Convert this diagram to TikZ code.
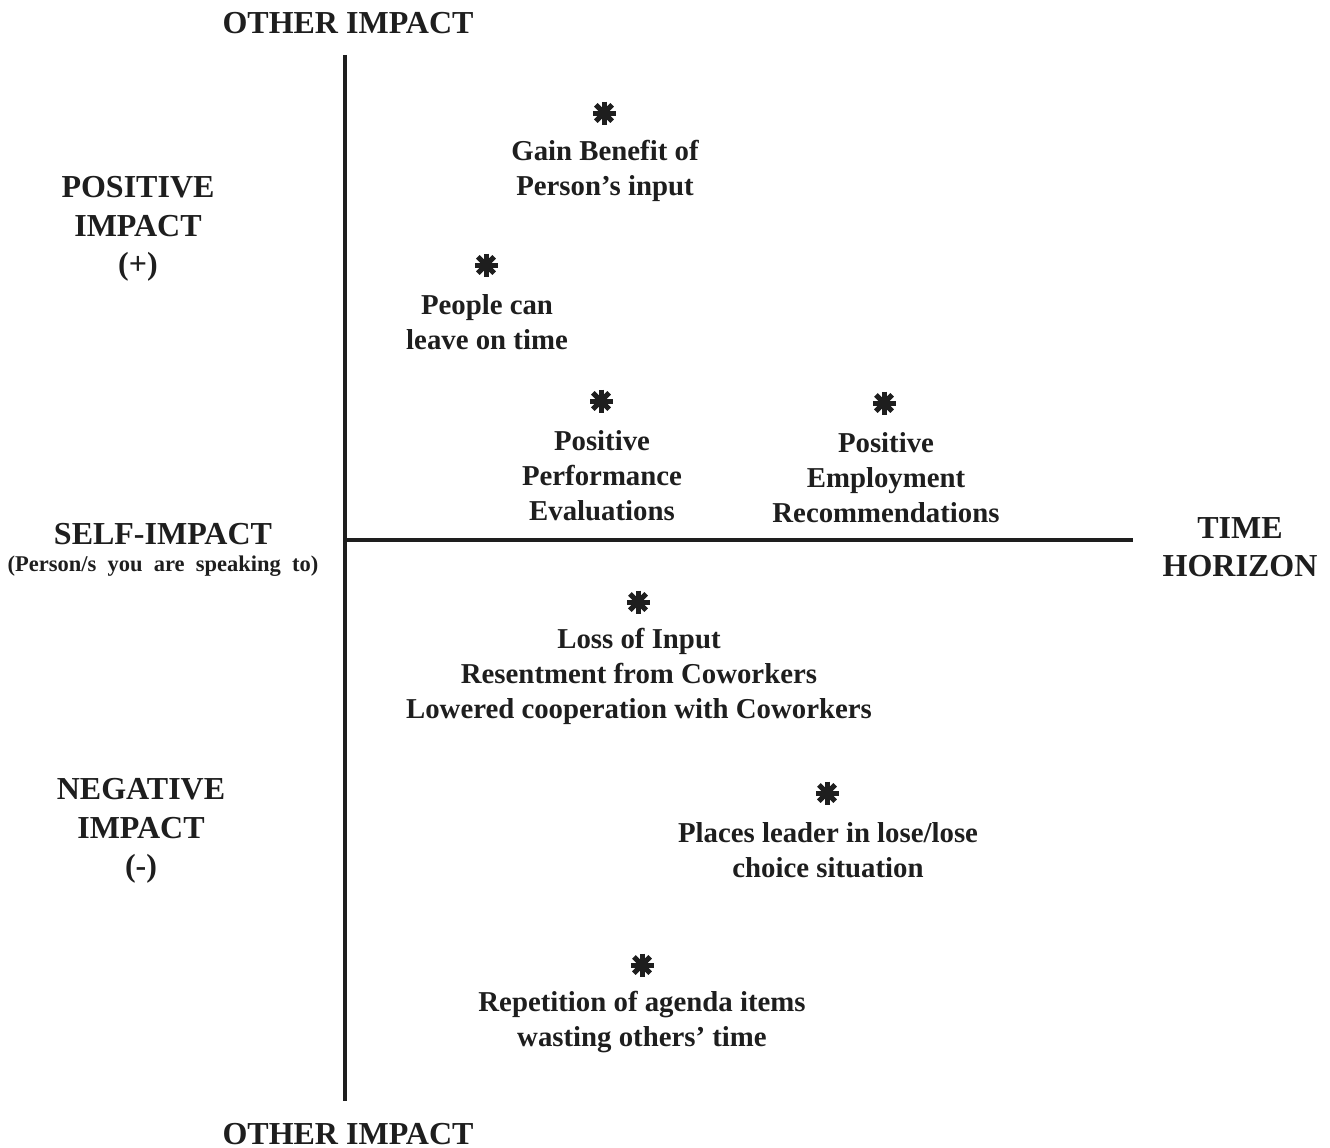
\documentclass[tikz,border=0pt]{standalone}
\usepackage{fontspec}
\setmainfont{Liberation Serif}
\definecolor{ink}{HTML}{1E1E1E}
\begin{document}
\begin{tikzpicture}[x=1pt,y=-1pt,
  every node/.style={inner sep=0pt,text=ink},
  axis/.style={line width=3.6pt,draw=ink},
  item/.style={font=\fontsize{28.8}{35}\selectfont\bfseries,align=center},
  head/.style={font=\fontsize{32}{38.5}\selectfont\bfseries,align=center},
  star/.style={rectangle,minimum size=28pt,
    path picture={
      \foreach \a in {0,45,90,135}
        \draw[line width=5pt,ink]
          ([shift={(\a:11.5pt)}]path picture bounding box.center) --
          ([shift={(\a+180:11.5pt)}]path picture bounding box.center);
      \fill[ink] (path picture bounding box.center) circle (5.5pt);
    }}]
\useasboundingbox (0,0) rectangle (1330,1148);

% axes
\coordinate (top) at (345,55);
\coordinate (bottom) at (345,1101);
\coordinate (origin) at (345,540);
\coordinate (right) at (1133,540);
\draw[axis] (top) -- (bottom);
\draw[axis] (origin) -- (right);

% axis captions
\node[head] (othertop) at (348,23) {OTHER IMPACT};
\node[head] (otherbot) at (348,1134) {OTHER IMPACT};
\node[head] (pos) at (138,229) {POSITIVE\\IMPACT\\(+)};
\node[head] (neg) at (141,831) {NEGATIVE\\IMPACT\\(-)};
\node[head] (self) at (163,534) {SELF-IMPACT};
\node[font=\fontsize{22.5}{24}\selectfont\bfseries] (selfsub) at (163,566) {(Person/s\ \ you\ \ are\ \ speaking\ \ to)};
\node[head] (time) at (1240,547) {TIME\\HORIZON};

% positive items
\node[star] (s1) at (604,113) {};
\node[item] (t1) at (605,171) {Gain Benefit of\\Person’s input};
\node[star] (s2) at (486,265) {};
\node[item] (t2) at (487,322) {People can\\leave on time};
\node[star] (s3) at (601,401) {};
\node[item] (t3) at (602,475.5) {Positive\\Performance\\Evaluations};
\node[star] (s4) at (884,403) {};
\node[item] (t4) at (886,477.5) {Positive\\Employment\\Recommendations};

% negative items
\node[star] (s5) at (638,602) {};
\node[item] (t5) at (639,676.5) {Loss of Input\\Resentment from Coworkers\\Lowered cooperation with Coworkers};
\node[star] (s6) at (827,793) {};
\node[item] (t6) at (828,850) {Places leader in lose/lose\\choice situation};
\node[star] (s7) at (642,965) {};
\node[item] (t7) at (642,1022) {Repetition of agenda items\\wasting others’ time};
\end{tikzpicture}
\end{document}
